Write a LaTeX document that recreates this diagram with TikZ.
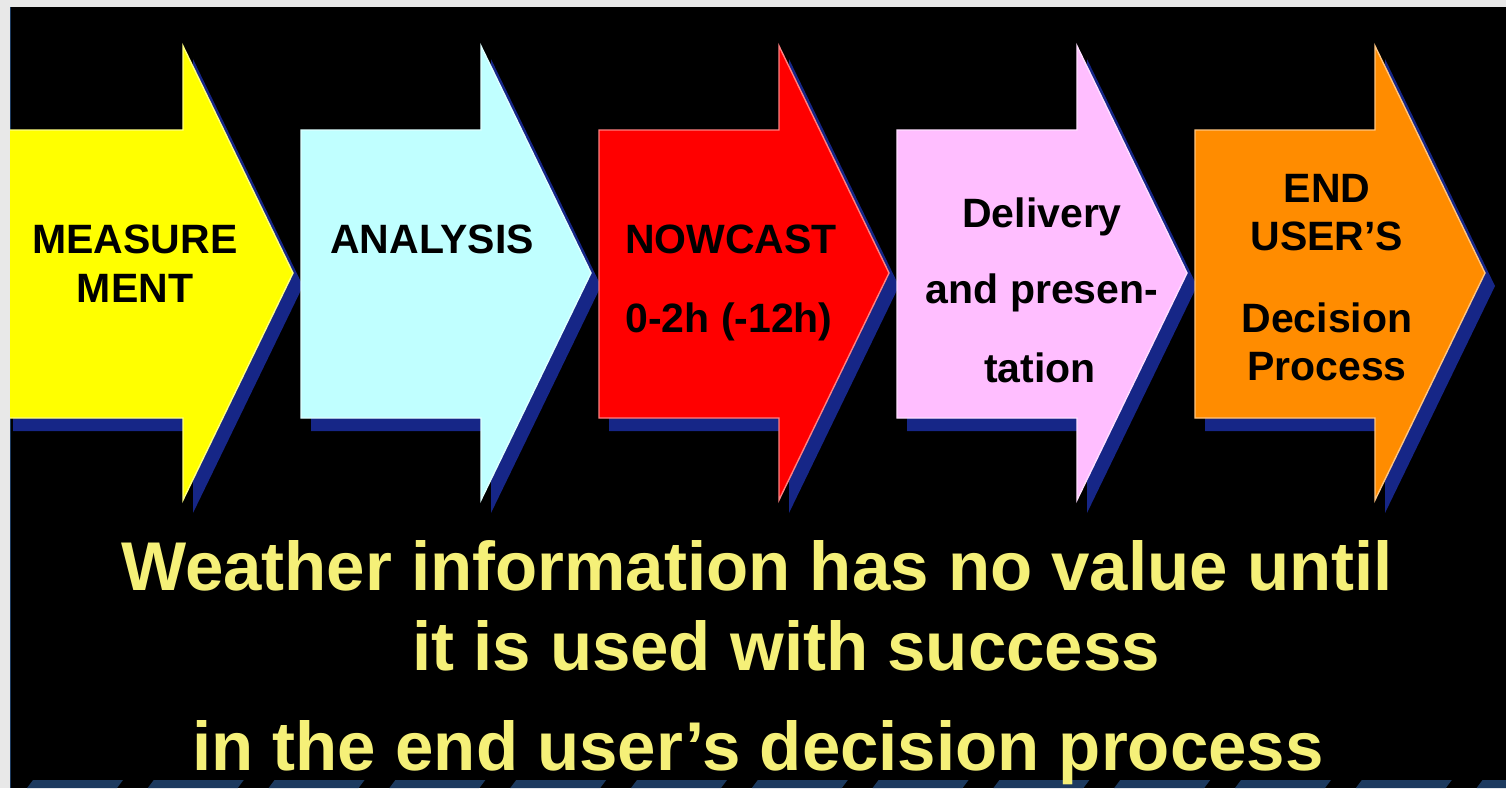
\documentclass[tikz,border=0pt]{standalone}
\usepackage{fontspec}
\setmainfont{Liberation Sans}
\definecolor{edgegray}{RGB}{232,232,232}
\definecolor{shadowblue}{RGB}{22,38,135}
\definecolor{stripblue}{RGB}{28,58,95}
\definecolor{arrYellow}{RGB}{255,255,0}
\definecolor{arrCyan}{RGB}{192,255,255}
\definecolor{arrRed}{RGB}{255,0,0}
\definecolor{arrPink}{RGB}{255,190,255}
\definecolor{arrOrange}{RGB}{255,140,0}
\definecolor{msgYellow}{RGB}{245,240,120}
\begin{document}
\begin{tikzpicture}[x=0.5pt,y=-0.5pt,
  arrtext/.style={font=\fontsize{20.5}{24}\selectfont\bfseries,
    anchor=base, text=black, inner sep=0pt},
  msgtext/.style={font=\fontsize{34.5}{40}\selectfont\bfseries,
    anchor=base, text=msgYellow, inner sep=0pt}]
\useasboundingbox (0,0) rectangle (1506,788);
% frame and slide background
\fill[edgegray] (0,0) rectangle (1506,788);
\fill[black] (10,7) rectangle (1506,788);
\draw[stripblue, line width=0.6pt] (10.5,7) -- (10.5,788);
\begin{scope}
  \clip (10,7) rectangle (1506,788);
  % process arrows with their drop shadows
  \foreach \L/\col in {3/arrYellow, 301/arrCyan, 599/arrRed, 897/arrPink, 1195/arrOrange}{
    \fill[shadowblue, shift={(10,13)}]
      (\L,130) -- (\L+180,130) -- (\L+180,46) -- (\L+290,273)
      -- (\L+180,500) -- (\L+180,418) -- (\L,418) -- cycle;
    \filldraw[fill=\col, draw=\col!50!white, line width=0.7pt, line join=miter]
      (\L,130) -- (\L+180,130) -- (\L+180,46) -- (\L+290,273)
      -- (\L+180,500) -- (\L+180,418) -- (\L,418) -- cycle;
  }
  % strip along the lower edge
  \foreach \k in {0,...,12}{
    \fill[stripblue] (33+120.8*\k,780) -- (123+120.8*\k,780)
      -- (117+120.8*\k,788) -- (27+120.8*\k,788) -- cycle;
  }
\end{scope}
% arrow labels
\node[arrtext] (m1) at (135,253) {MEASURE};
\node[arrtext] (m2) at (135,302) {MENT};
\node[arrtext] (a1) at (432,253) {ANALYSIS};
\node[arrtext] (n1) at (731,253) {NOWCAST};
\node[arrtext] (n2) at (729,332) {0-2h (-12h)};
\node[arrtext] (d1) at (1042,227) {Delivery};
\node[arrtext] (d2) at (1042,303) {and presen-};
\node[arrtext] (d3) at (1040,382) {tation};
\node[arrtext] (e1) at (1327,202) {END};
\node[arrtext] (e2) at (1327,250) {USER’S};
\node[arrtext] (e3) at (1327,332) {Decision};
\node[arrtext] (e4) at (1327,380) {Process};
% message below the arrows
\node[msgtext] (t1) at (757,590) {Weather information has no value until};
\node[msgtext] (t2) at (786,670) {it is used with success};
\node[msgtext] (t3) at (758,770) {in the end user’s decision process};
\end{tikzpicture}
\end{document}
